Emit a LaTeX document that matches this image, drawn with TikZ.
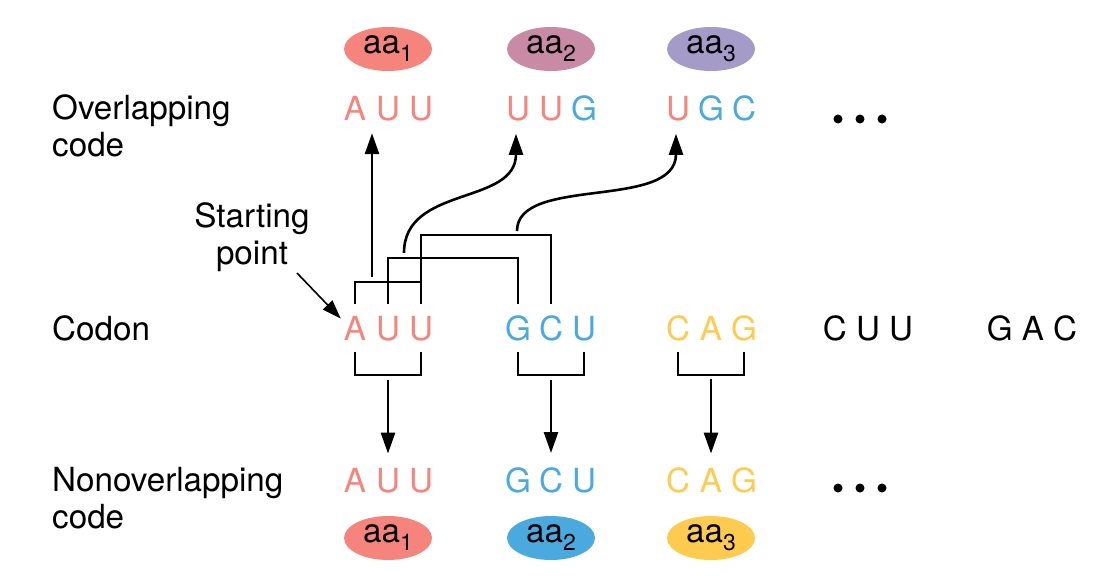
\documentclass[tikz,border=0pt]{standalone}
\usepackage{fontspec}
\setmainfont{TeX Gyre Heros}
\usetikzlibrary{shapes.geometric,arrows.meta,calc}

\definecolor{salmon}{HTML}{F5857C}
\definecolor{sky}{HTML}{4AA9DF}
\definecolor{sunny}{HTML}{FFCB4E}
\definecolor{mauve}{HTML}{C98AA6}
\definecolor{lavender}{HTML}{A59BC9}

\newcommand{\aalabel}[1]{aa\raisebox{-8pt}{\fontsize{23}{24}\selectfont #1}}

\begin{document}
\begin{tikzpicture}[x=1pt,y=-1pt,
  every node/.style={inner sep=0pt,font=\fontsize{33.2}{37}\selectfont},
  letter/.style={anchor=base},
  amino/.style={ellipse,minimum width=88pt,minimum height=44pt},
  bracket/.style={line width=1.2pt},
  arr/.style={line width=2.6pt,-{Triangle[length=21pt,width=14pt]}},
  pointer/.style={line width=1.6pt,-{Triangle[length=19pt,width=13pt]}}]

  \useasboundingbox (0,0) rectangle (1120,576);

  % LABELS
  \node[anchor=base west,align=left] (lab-ov) at (52,156) {Overlapping\\code};
  \node[anchor=base west] (lab-codon) at (52,340) {Codon};
  \node[anchor=base west,align=left] (lab-non) at (52,528) {Nonoverlapping\\code};
  \node[anchor=base,align=center] (start) at (252,264) {Starting\\point};

  % TOP
  \foreach \x/\col/\n in {388/salmon/1,551/mauve/2,711/lavender/3}
    \node[amino,fill=\col] (top\n) at (\x,49) {\aalabel{\n}};
  \foreach \ch/\col/\x [count=\i] in {A/salmon/355,U/salmon/388,U/salmon/421,
      U/salmon/518,U/salmon/551,G/sky/584,U/salmon/678,G/sky/711,C/sky/744}
    \node[letter,text=\col] (o\i) at (\x,120) {\ch};

  % MIDDLE
  \foreach \ch/\col/\x [count=\i] in {A/salmon/355,U/salmon/388,U/salmon/421,
      G/sky/518,C/sky/551,U/sky/584,C/sunny/678,A/sunny/711,G/sunny/744}
    \node[letter,text=\col] (c\i) at (\x,340) {\ch};
  \node[letter] (cuu) at (868,340) {C U U};
  \node[letter] (gac) at (1032,340) {G A C};

  % BOTTOM
  \foreach \ch/\col/\x [count=\i] in {A/salmon/355,U/salmon/388,U/salmon/421,
      G/sky/518,C/sky/551,U/sky/584,C/sunny/678,A/sunny/711,G/sunny/744}
    \node[letter,text=\col] (n\i) at (\x,492) {\ch};
  \foreach \x/\col/\n in {388/salmon/1,551/sky/2,711/sunny/3}
    \node[amino,fill=\col] (bot\n) at (\x,538) {\aalabel{\n}};

  \foreach \y in {119,488}
    \foreach \x in {838,860,882}
      \fill (\x,\y) circle[radius=4.5pt];

  % overlapping brackets
  \draw[bracket] (c1 |- 0,304) -- (c1 |- 0,282) -- (c3 |- 0,282) -- (c3 |- 0,304);
  \draw[bracket] (c2 |- 0,304) -- (c2 |- 0,258) -- (c4 |- 0,258) -- (c4 |- 0,304);
  \draw[bracket] (c3 |- 0,282) -- (c3 |- 0,235) -- (c5 |- 0,235) -- (c5 |- 0,304);

  \coordinate (s1) at (372,277);
  \coordinate (s2) at (404,253);
  \coordinate (s3) at (517,231);
  \path (s1 |- o1.south) ++(0,13) coordinate (t1);
  \draw[arr] (s1) -- (t1);
  \draw[arr] (s2) .. controls +(0,-68) and +(0,72) .. ([xshift=-2pt,yshift=-13pt]o4.south);
  \draw[arr] (s3) .. controls +(0,-56) and +(0,77) .. ([xshift=-2pt,yshift=-13pt]o7.south);

  % nonoverlapping brackets
  \foreach \a/\m/\b in {1/2/3,4/5/6,7/8/9} {
    \draw[bracket] (c\a |- 0,352) -- (c\a |- 0,375) -- (c\b |- 0,375) -- (c\b |- 0,352);
    \draw[arr] ([yshift=-39pt]c\m.south) -- ([yshift=14pt]n\m.north);
  }

  \coordinate (start-tail) at (297,273);
  \draw[pointer] (start-tail) -- ([xshift=-3pt,yshift=-3pt]c1.north west);

\end{tikzpicture}
\end{document}
